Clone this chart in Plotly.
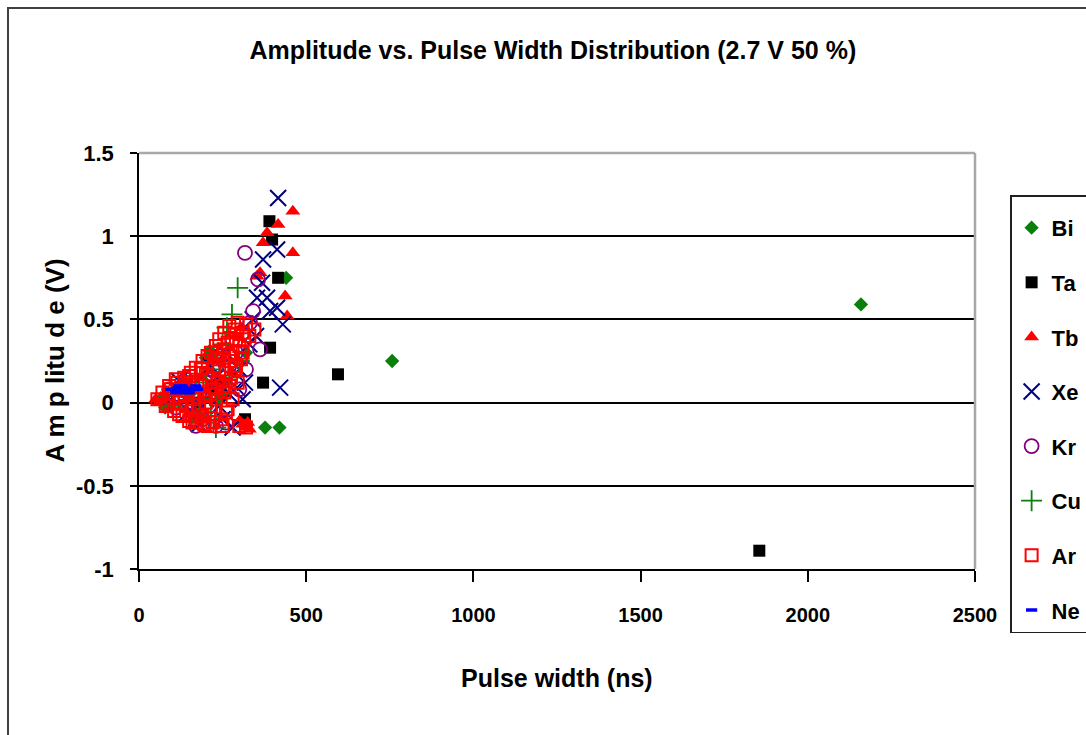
import plotly.graph_objects as go

# ---------------- data ----------------
bi_x = [2159, 757, 440, 377, 420, 212, 200, 222, 78, 150, 260, 320, 180, 240]
bi_y = [0.59, 0.25, 0.75, -0.15, -0.15, 0.31, 0.27, 0.29, -0.03, 0.05, 0.12, 0.30, -0.08, 0.02]

ta_x = [1855, 595, 371, 392, 416, 390, 398, 317, 220, 180]
ta_y = [-0.89, 0.17, 0.12, 0.33, 0.75, 1.09, 0.98, -0.10, 0.10, 0.00]

tb_x = [460, 416, 460, 383, 371, 362, 437, 443, 353,
        50, 60, 75, 90, 110, 130, 150, 170, 190, 210, 230, 250, 270, 290, 305,
        310, 320, 330, 300, 325, 260, 280, 65, 85, 140, 200, 240]
tb_y = [1.15, 1.07, 0.90, 1.02, 0.96, 0.78, 0.64, 0.52, 0.76,
        0.02, 0.00, 0.04, -0.03, 0.06, 0.09, 0.02, -0.06, 0.15, 0.20, 0.10, 0.26, 0.33, 0.40, 0.45,
        -0.13, -0.15, -0.16, -0.11, -0.12, 0.05, 0.18, 0.03, -0.01, -0.04, 0.07, 0.14]

xe_x = [416, 413, 371, 383, 413, 430, 353, 392, 368, 340, 422, 293, 317, 300, 330,
        350, 270, 250, 230, 200, 180, 160, 140, 120, 100, 280, 310, 260, 240, 215]
xe_y = [1.23, 0.92, 0.86, 0.63, 0.57, 0.47, 0.63, 0.55, 0.72, 0.50, 0.09, 0.09, 0.12, 0.20, 0.35,
        0.40, 0.05, -0.10, 0.15, 0.02, -0.13, 0.10, -0.07, 0.13, 0.03, -0.15, 0.02, 0.30, -0.02, 0.22]

kr_x = [317, 356, 341, 332, 362, 310, 290, 270, 250, 230, 210, 190, 170, 150,
        130, 110, 90, 200, 220, 240, 180, 160, 280, 300, 320, 260, 230, 140]
kr_y = [0.90, 0.74, 0.55, 0.48, 0.32, 0.42, 0.30, 0.22, 0.15, 0.06, -0.02, -0.10, -0.14, 0.00,
        0.10, -0.03, 0.08, 0.12, 0.20, 0.28, 0.05, -0.08, 0.38, 0.08, 0.20, -0.12, -0.14, 0.14]

cu_x = [295, 278, 263, 250, 235, 220, 200, 180, 160, 140, 120, 100, 80, 190,
        215, 245, 270, 300, 230, 170]
cu_y = [0.69, 0.53, 0.45, 0.35, 0.30, 0.20, 0.12, 0.02, -0.06, 0.05, 0.08, -0.02, 0.04, -0.12,
        -0.08, 0.05, 0.15, 0.25, -0.15, 0.16]

ar_x = [55, 70, 80, 90, 100, 105, 115, 120, 130, 135, 145, 150, 155, 165, 170, 175,
        185, 190, 195, 200, 205, 210, 215, 220, 225, 230, 235, 240, 245, 250, 255,
        260, 265, 270, 275, 280, 285, 290, 295, 300, 310, 320, 330, 345, 180, 200,
        225, 250, 275, 160, 140, 260, 290, 310, 240, 210, 300, 320, 120, 95,
        110, 125, 140, 160, 175, 195, 215, 235, 255, 270, 285, 305, 190, 205, 230,
        250, 265, 280, 295, 315, 170, 185, 150, 230, 255]
ar_y = [0.02, 0.06, -0.02, 0.10, 0.03, -0.05, 0.12, 0.04, -0.08, 0.15, 0.07, -0.11, 0.18, 0.02, 0.21, -0.12,
        0.10, 0.25, -0.13, 0.17, 0.28, 0.05, 0.30, -0.12, 0.22, 0.34, 0.12, 0.38, -0.10, 0.27, 0.42,
        0.18, 0.36, 0.46, 0.25, 0.30, 0.44, 0.38, 0.48, 0.34, 0.42, 0.47, 0.40, 0.44, -0.04, 0.00,
        0.08, 0.10, 0.15, 0.12, -0.02, -0.06, 0.22, 0.30, 0.20, 0.14, -0.14, -0.15, -0.07, 0.08,
        0.14, 0.00, 0.10, -0.12, 0.06, 0.04, -0.02, 0.26, 0.32, 0.10, 0.20, 0.26, -0.08, -0.14, 0.02,
        -0.14, -0.04, 0.02, 0.12, 0.38, -0.10, 0.20, 0.16, 0.30, 0.06]

ne_x = [95, 105, 115, 125, 135, 145, 155, 165, 175, 110, 130, 150, 170, 120, 140]
ne_y = [0.08, 0.08, 0.08, 0.08, 0.08, 0.08, 0.08, 0.08, 0.08, 0.06, 0.10, 0.06, 0.10, 0.10, 0.06]

x_ticks = [0, 500, 1000, 1500, 2000, 2500]
y_ticks = [-1, -0.5, 0, 0.5, 1, 1.5]
y_tick_text = ["-1", "-0.5", "0", "0.5", "1", "1.5"]

# ---------------- styling ----------------
FONT = "Liberation Sans Narrow, Arial Narrow, Liberation Sans, Arial, sans-serif"
GREEN = "#0B7F0B"
RED = "#FF0000"
NAVY = "#000080"
PURPLE = "#800080"
BLUE = "#0000FF"

series = [
    ("Bi", bi_x, bi_y, dict(symbol="diamond", size=11, color=GREEN)),
    ("Ta", ta_x, ta_y, dict(symbol="square", size=12, color="#000000")),
    ("Tb", tb_x, tb_y, dict(symbol="triangle-up", size=13, color=RED)),
    ("Xe", xe_x, xe_y, dict(symbol="x-thin-open", size=16, color=NAVY, line=dict(color=NAVY, width=2))),
    ("Kr", kr_x, kr_y, dict(symbol="circle-open", size=14, color=PURPLE, line=dict(color=PURPLE, width=1.8))),
    ("Cu", cu_x, cu_y, dict(symbol="cross-thin-open", size=15, color=GREEN, line=dict(color=GREEN, width=1.8))),
    ("Ar", ar_x, ar_y, dict(symbol="square-open", size=12, color=RED, line=dict(color=RED, width=2))),
    ("Ne", ne_x, ne_y, dict(symbol="line-ew-open", size=8, color=BLUE, line=dict(color=BLUE, width=3.5))),
]

fig = go.Figure()
for name, xs, ys, mk in series:
    fig.add_trace(go.Scatter(x=xs, y=ys, mode="markers", name=name, legendgroup=name,
                             marker=mk, cliponaxis=False))

fig.update_layout(
    width=1086, height=735,
    margin=dict(l=139, r=111, t=153, b=166, autoexpand=False),
    paper_bgcolor="white", plot_bgcolor="white",
    title=dict(text="Amplitude vs. Pulse Width Distribution (2.7 V 50 %)",
               x=0.495, xref="paper", y=1 - 50 / 735, yref="container",
               xanchor="center", yanchor="middle",
               font=dict(family=FONT, size=25, color="#000000", weight="bold")),
    xaxis=dict(range=[0, 2500], tickvals=x_ticks, ticks="outside", ticklen=11, tickwidth=1.5,
               tickcolor="#000000", showline=True, linecolor="#000000", linewidth=1.5,
               showgrid=False, zeroline=False,
               tickfont=dict(family=FONT, size=20, color="#000000", weight="bold"),
               ticklabelstandoff=16),
    yaxis=dict(range=[-1, 1.5], tickvals=y_ticks, ticktext=y_tick_text, ticks="outside", ticklen=7,
               tickwidth=1.5, tickcolor="#000000", showline=True, linecolor="#000000", linewidth=1.5,
               showgrid=True, gridcolor="#000000", gridwidth=1.5, zeroline=False,
               tickfont=dict(family=FONT, size=22, color="#000000", weight="bold"),
               ticklabelstandoff=12),
    legend=dict(x=1.042, y=0.899, xanchor="left", yanchor="top",
                bordercolor="#202020", borderwidth=1.5, bgcolor="white",
                font=dict(family=FONT, size=22, color="#000000", weight="bold"),
                title=dict(text=" ", font=dict(size=8)),
                traceorder="grouped", tracegroupgap=23, maxheight=520),
    showlegend=True,
)

# axis titles
fig.add_annotation(text="Pulse width (ns)", xref="paper", yref="paper", x=0.5, y=-0.262,
                   showarrow=False, xanchor="center", yanchor="middle",
                   font=dict(family=FONT, size=25, color="#000000", weight="bold"))
fig.add_annotation(text="A m p litu d e (V)", xref="paper", yref="paper", x=-0.101, y=0.5,
                   showarrow=False, xanchor="center", yanchor="middle", textangle=-90,
                   font=dict(family=FONT, size=26, color="#000000", weight="bold"))

# plot-area frame (grey top & right) and outer chart border
fig.add_shape(type="line", xref="paper", yref="paper", x0=0, x1=1, y0=1, y1=1,
              line=dict(color="#A8A8A8", width=2.5), layer="above")
fig.add_shape(type="line", xref="paper", yref="paper", x0=1, x1=1, y0=0, y1=1,
              line=dict(color="#A8A8A8", width=2.5), layer="above")
fig.add_shape(type="rect", xref="paper", yref="paper", x0=-0.1567, x1=1.16, y0=-0.45, y1=1.3486,
              line=dict(color="#404040", width=2), layer="below")

fig.write_html("out.html")
